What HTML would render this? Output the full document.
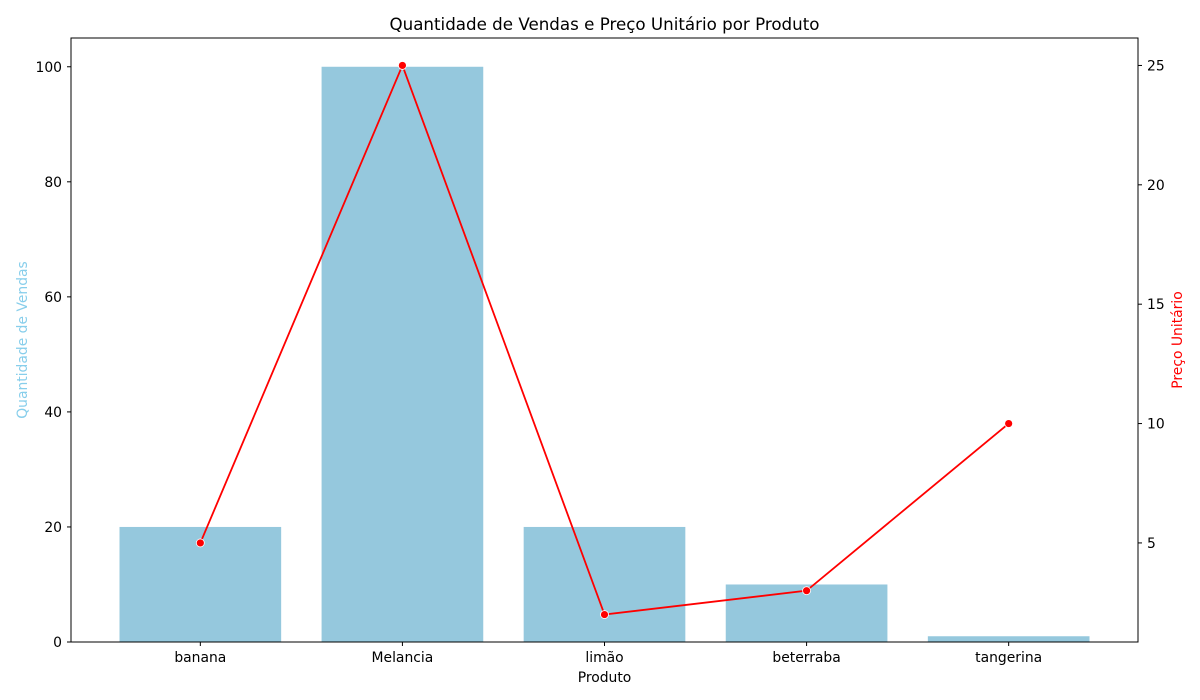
<!DOCTYPE html>
<html><head><meta charset="utf-8"><style>
body{margin:0;background:#fff;}
svg{display:block;font-family:"DejaVu Sans","Liberation Sans",sans-serif;}
</style></head><body>
<svg id="chart" width="1200" height="700">
<rect width="1200" height="700" fill="#fff"/>
</svg>
<script>
const categories=["banana","Melancia","limão","beterraba","tangerina"];
const quantities=[20,100,20,10,1];
const prices=[5,25,2,3,10];
const leftTicks=[0,20,40,60,80,100];
const rightTicks=[5,10,15,20,25];

const NS="http://www.w3.org/2000/svg";
const svg=document.getElementById('chart');
const L=71,R=1138,T=38,B=642;
const xmin=-0.64,xmax=4.64;
const x=i=>L+(i-xmin)/(xmax-xmin)*(R-L);
const yl=v=>B-v/105*(B-T);
const pmin=0.85,pmax=26.15;
const yr=v=>B-(v-pmin)/(pmax-pmin)*(B-T);
function el(tag,attrs,parent){const e=document.createElementNS(NS,tag);for(const k in attrs)e.setAttribute(k,attrs[k]);(parent||svg).appendChild(e);return e;}
function txt(s,attrs){const e=el('text',attrs);e.textContent=s;return e;}

const bw=0.8*(x(1)-x(0));
categories.forEach((c,i)=>{
  const b=el('rect',{x:x(i)-bw/2,y:yl(quantities[i]),width:bw,height:B-yl(quantities[i]),fill:'#95c8dd'});
  
  
  el('line',{x1:x(i),x2:x(i),y1:B,y2:B+4,stroke:'#000'});
  const t=txt(c,{x:x(i),y:B+20,'text-anchor':'middle','font-size':13.9});
  
  
});
leftTicks.forEach(v=>{
  el('line',{x1:L-4,x2:L,y1:yl(v),y2:yl(v),stroke:'#000'});
  const t=txt(v,{x:L-9,y:yl(v)+5,'text-anchor':'end','font-size':13.9});
  
  
});
rightTicks.forEach(v=>{
  el('line',{x1:R,x2:R+4,y1:yr(v),y2:yr(v),stroke:'#000'});
  const t=txt(v,{x:R+9,y:yr(v)+5,'text-anchor':'start','font-size':13.9});
  
  
});
const line=el('polyline',{points:prices.map((p,i)=>x(i)+','+yr(p)).join(' '),fill:'none',stroke:'#ff0000','stroke-width':1.8});


prices.forEach((p,i)=>{
  const c=el('circle',{cx:x(i),cy:yr(p),r:4,fill:'#ff0000',stroke:'#fff','stroke-width':0.8});
  
  
});
const frame=el('rect',{x:L,y:T,width:R-L,height:B-T,fill:'none',stroke:'#000','stroke-width':1});


const title=txt('Quantidade de Vendas e Preço Unitário por Produto',{x:(L+R)/2,y:30,'text-anchor':'middle','font-size':16.7});


const xt=txt('Produto',{x:(L+R)/2,y:682,'text-anchor':'middle','font-size':13.9});


const ylt=txt('Quantidade de Vendas',{x:27,y:340,'text-anchor':'middle','font-size':13.9,fill:'#87ceeb',transform:'rotate(-90 27 340)'});


const yrt=txt('Preço Unitário',{x:1182,y:340,'text-anchor':'middle','font-size':13.9,fill:'#ff0000',transform:'rotate(-90 1182 340)'});


</script>
</body></html>
